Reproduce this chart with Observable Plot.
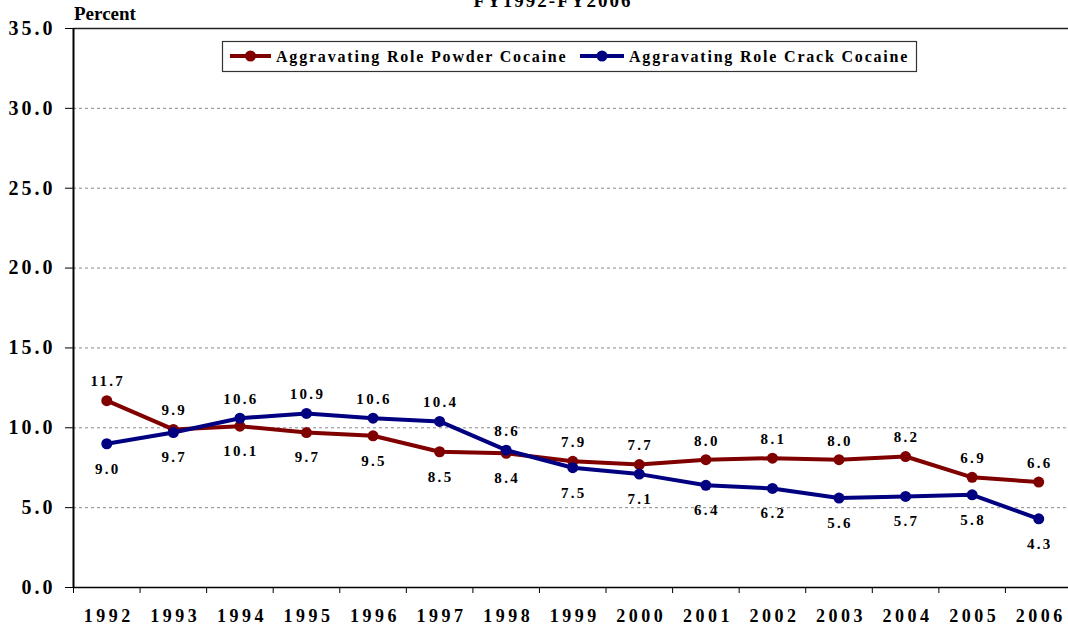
<!DOCTYPE html>
<html><head><meta charset="utf-8">
<script src="https://cdn.jsdelivr.net/npm/d3@7"></script>
<script src="https://cdn.jsdelivr.net/npm/@observablehq/plot@0.6"></script>
<style>
body{margin:0;background:#fff;}
#chart{width:1068px;height:630px;overflow:hidden;}
#chart svg{overflow:visible;}
#chart svg text{font-family:"Liberation Serif","Times New Roman",serif !important;font-weight:bold !important;fill:#000;}
#chart [aria-label="y-axis tick label"] text{letter-spacing:3px;font-size:20px;}
#chart [aria-label="x-axis tick label"] text{letter-spacing:3.5px;font-size:18px;}
#chart .vlabel text{letter-spacing:2.3px;font-size:15px;}
</style>
</head><body>
<div id="chart"></div>
<script>
const years = [1992,1993,1994,1995,1996,1997,1998,1999,2000,2001,2002,2003,2004,2005,2006];
const powder = [11.7,9.9,10.1,9.7,9.5,8.5,8.4,7.9,7.7,8.0,8.1,8.0,8.2,6.9,6.6];
const crack = [9.0,9.7,10.6,10.9,10.6,10.4,8.6,7.5,7.1,6.4,6.2,5.6,5.7,5.8,4.3];
const yTicks = [0,5,10,15,20,25,30,35];
const seriesNames = ["Aggravating Role Powder Cocaine","Aggravating Role Crack Cocaine"];
const seriesColors = ["#800000","#000080"];
const titleText = "FY1992-FY2006";
const yLabel = "Percent";

const data = years.flatMap((yr,i)=>[
  {year:yr, value:powder[i], series:seriesNames[0], above: powder[i] >= crack[i]},
  {year:yr, value:crack[i], series:seriesNames[1], above: crack[i] > powder[i]}
]);
const boundaries = years.map(y=>y-0.5).concat([years[years.length-1]+0.5]);

const marks = [
  Plot.ruleY(yTicks.filter(d=>d>0 && d<35), {stroke:"#8a8a8a", strokeDasharray:"3,3", strokeWidth:1}),
  Plot.ruleY([35], {stroke:"#222", strokeWidth:1.5}),
  Plot.ruleY([0], {stroke:"#000", strokeWidth:1.5}),
  Plot.ruleX([boundaries[0]], {stroke:"#000", strokeWidth:2}),
  Plot.axisY({ticks:yTicks, tickSize:8, tickPadding:10, tickFormat:d=>d.toFixed(1), fontSize:20, fontWeight:"bold", fill:"#000", stroke:"#000", label:null}),
  Plot.axisX({ticks:boundaries, tickSize:6, tickFormat:()=>"", label:null, stroke:"#000"}),
  Plot.axisX({ticks:years, tickSize:0, tickPadding:22, tickFormat:d=>String(d), fontSize:18, fontWeight:"bold", fill:"#000", dx:2, label:null})
];
seriesNames.forEach((s,k)=>{
  const sub = data.filter(d=>d.series===s);
  marks.push(Plot.line(sub, {x:"year", y:"value", stroke:seriesColors[k], strokeWidth:4}));
  marks.push(Plot.dot(sub, {x:"year", y:"value", fill:seriesColors[k], r:5.5}));
});
marks.push(Plot.text(data.filter(d=>d.above), {x:"year", y:"value", text:d=>d.value.toFixed(1), dy:-19, dx:1, fontSize:15, fontWeight:"bold", fill:"#000", className:"vlabel"}));
marks.push(Plot.text(data.filter(d=>!d.above), {x:"year", y:"value", text:d=>d.value.toFixed(1), dy:25, dx:1, fontSize:15, fontWeight:"bold", fill:"#000", className:"vlabel"}));

const chart = Plot.plot({
  width:1068, height:630,
  marginLeft:73, marginTop:28, marginBottom:43, marginRight:0,
  x:{type:"linear", domain:[boundaries[0], boundaries[boundaries.length-1]], range:[73,1071.5]},
  y:{domain:[0,35], range:[587,28]},
  style:{fontFamily:"Liberation Serif, serif", background:"#fff", color:"#000"},
  marks
});
document.getElementById("chart").appendChild(chart);

// Title, y label and legend (annotations)
const svg = d3.select(chart);
svg.append("text").attr("x",553).attr("y",7).attr("text-anchor","middle")
  .attr("font-size",19).style("letter-spacing","2px").text(titleText);
svg.append("text").attr("x",74).attr("y",20).attr("text-anchor","start").attr("font-size",19).text(yLabel);

const lg = svg.append("g");
lg.append("rect").attr("x",222.5).attr("y",41.5).attr("width",694).attr("height",30)
  .attr("fill","#fff").attr("stroke","#333").attr("stroke-width",1.2);
const legendX = [[230,276],[580,629]];
seriesNames.forEach((s,k)=>{
  const [lx,tx] = legendX[k];
  lg.append("line").attr("x1",lx).attr("x2",tx-5).attr("y1",56).attr("y2",56)
    .attr("stroke",seriesColors[k]).attr("stroke-width",4);
  lg.append("circle").attr("cx",(lx+tx-5)/2).attr("cy",56).attr("r",5.5).attr("fill",seriesColors[k]);
  lg.append("text").attr("x",tx).attr("y",61.5).attr("text-anchor","start").attr("font-size",16)
    .style("letter-spacing","1.8px").text(s);
});
</script>
</body></html>
